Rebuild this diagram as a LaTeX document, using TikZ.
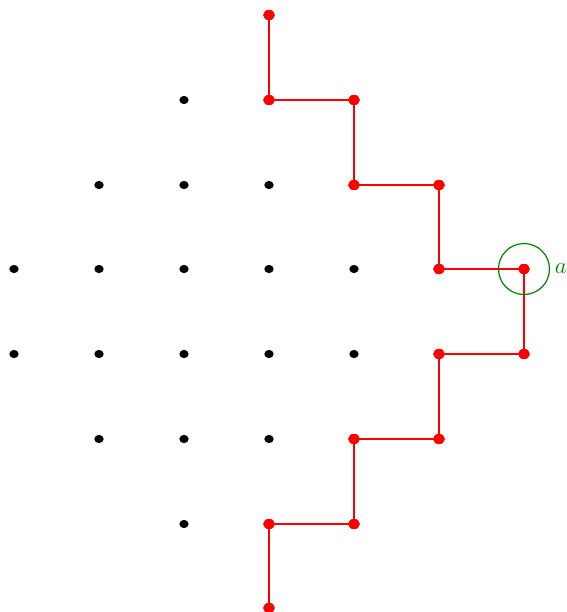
\documentclass[tikz,border=0pt]{standalone}
\usetikzlibrary{calc,shapes.geometric}
\definecolor{dgreen}{RGB}{0,128,0}
\begin{document}
\begin{tikzpicture}[x=0.75pt,y=-0.75pt,
  bdot/.style={fill=black,draw=none,ellipse,inner sep=0pt,minimum width=7pt,minimum height=6.2pt},
  rdot/.style={fill=red,draw=none,inner sep=0pt,minimum width=8.8pt,minimum height=7.8pt,ellipse},
  rline/.style={red,line width=0.8pt},
]
\useasboundingbox (0,0) rectangle (567,612);
% black dots
\foreach \x/\y [count=\i] in {184/100, 99/185,184/185,269/185, 14/269,99/269,184/269,269/269,354/269, 14/354,99/354,184/354,269/354,354/354, 99/439,184/439,269/439, 184/524}
  \node[bdot] (b\i) at (\x,\y) {};
% red path nodes
\foreach \x/\y [count=\i] in {269/15, 269/100, 354/100, 354/185, 439/185, 439/269, 524/269, 524/354, 439/354, 439/439, 354/439, 354/524, 269/524, 269/608}
  \coordinate (r\i) at (\x,\y);
\draw[rline] (r1) -- (r2) -- (r3) -- (r4) -- (r5) -- (r6) -- (r7) -- (r8) -- (r9) -- (r10) -- (r11) -- (r12) -- (r13) -- (r14);
\foreach \i in {1,...,14} \node[rdot] (rd\i) at (r\i) {};
\draw[dgreen,line width=0.9pt] (r7) circle[radius=25.5];
\node[dgreen,anchor=west,inner sep=0pt,font=\fontsize{19}{22}\selectfont] (lbl) at (554.5,269) {$a$};
\end{tikzpicture}
\end{document}
